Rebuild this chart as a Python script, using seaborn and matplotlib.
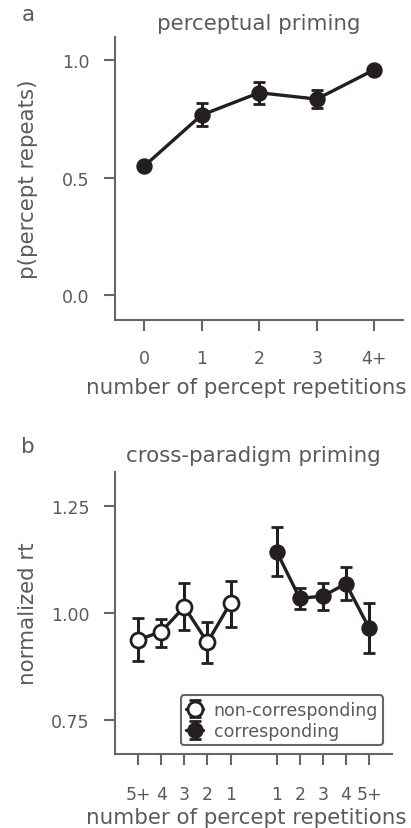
import matplotlib
matplotlib.use('Agg')
import matplotlib.pyplot as plt
import seaborn as sns
import numpy as np

# panel a: perceptual priming
rep_labels_a = ['0', '1', '2', '3', '4+']
p_repeat = [0.548, 0.766, 0.861, 0.834, 0.959]
p_repeat_lo = [0.540, 0.718, 0.813, 0.796, 0.950]
p_repeat_hi = [0.556, 0.816, 0.907, 0.873, 0.968]

# panel b: cross-paradigm priming
noncorr_labels = ['5+', '4', '3', '2', '1']
noncorr_rt = [0.937, 0.956, 1.014, 0.931, 1.023]
noncorr_lo = [0.888, 0.921, 0.959, 0.882, 0.968]
noncorr_hi = [0.988, 0.986, 1.070, 0.979, 1.074]
corr_labels = ['1', '2', '3', '4', '5+']
corr_rt = [1.143, 1.034, 1.039, 1.068, 0.965]
corr_lo = [1.087, 1.009, 1.007, 1.030, 0.907]
corr_hi = [1.200, 1.059, 1.070, 1.106, 1.023]

sns.set_style('ticks')
plt.rcParams['font.family'] = ['DejaVu Sans']
txt = '#5a5a5a'
spine = '#666666'
dark = '#231f20'
fs_lab = 15.4
fs_tick = 12.5

fig = plt.figure(figsize=(4.11, 8.29), dpi=100)
ax1 = fig.add_axes([0.280, 0.6128, 0.701, 0.3414])
ax2 = fig.add_axes([0.280, 0.0893, 0.674, 0.3405])

mk = dict(lw=2.4, marker='o', ms=10.8, capsize=4.2, capthick=2,
          elinewidth=2.2)


def style(ax, xpad):
    sns.despine(ax=ax)
    for s in ['left', 'bottom']:
        ax.spines[s].set_color(spine)
        ax.spines[s].set_linewidth(1.5)
    ax.tick_params(axis='both', colors=spine, labelcolor=txt,
                   labelsize=fs_tick, length=8, width=1.5)
    ax.tick_params(axis='x', pad=xpad)
    ax.tick_params(axis='y', pad=10.5)


def errs(v, lo, hi):
    v = np.array(v)
    return [v - np.array(lo), np.array(hi) - v]


xa = np.arange(len(rep_labels_a))
ax1.errorbar(xa, p_repeat, yerr=errs(p_repeat, p_repeat_lo, p_repeat_hi),
             color=dark, **mk)
ax1.set_xlim(-0.5, 4.5)
ax1.set_ylim(-0.105, 1.098)
ax1.set_yticks([0.0, 0.5, 1.0])
ax1.set_xticks(xa)
ax1.set_xticklabels(rep_labels_a)
ax1.set_ylabel('p(percept repeats)', fontsize=fs_lab, color=txt)
ax1.yaxis.set_label_coords(-0.267, 0.5)
ax1.set_xlabel('number of percept repetitions', fontsize=fs_lab, color=txt,
               labelpad=6.8)
ax1.xaxis.label.set_x((246 - 115) / 288)
ax1.set_title('perceptual priming', fontsize=fs_lab, color=txt, pad=6)
style(ax1, 13)
fig.text(28 / 411, 1 - 15 / 829, 'a', fontsize=fs_lab, color=txt,
         ha='center', va='center')

xn = np.arange(len(noncorr_labels))
xc = np.arange(len(corr_labels)) + len(noncorr_labels) + 1
ax2.errorbar(xn, noncorr_rt, yerr=errs(noncorr_rt, noncorr_lo, noncorr_hi),
             color=dark, mfc='white', mec=dark, mew=2,
             label='non-corresponding', **mk)
ax2.errorbar(xc, corr_rt, yerr=errs(corr_rt, corr_lo, corr_hi),
             color=dark, mfc=dark, mec=dark,
             label='corresponding', **mk)
ax2.set_xlim(-1, 11)
ax2.set_ylim(0.67, 1.33)
ax2.set_yticks([0.75, 1.0, 1.25])
ax2.set_xticks(np.concatenate([xn, xc]))
ax2.set_xticklabels(noncorr_labels + corr_labels)
ax2.set_ylabel('normalized rt', fontsize=fs_lab, color=txt)
ax2.yaxis.set_label_coords(-0.278, 0.5)
ax2.set_xlabel('number of percept repetitions', fontsize=fs_lab, color=txt,
               labelpad=3.5)
ax2.xaxis.label.set_x((246 - 115) / 277)
ax2.set_title('cross-paradigm priming', fontsize=fs_lab, color=txt, pad=8)
style(ax2, 14)
leg = ax2.legend(loc='lower right', fontsize=fs_tick, handlelength=1.0,
                 handletextpad=0.6, borderpad=0.3, labelspacing=0.2,
                 borderaxespad=0.5, frameon=True, fancybox=True)
leg.get_frame().set_edgecolor(spine)
leg.get_frame().set_linewidth(1.5)
leg.get_frame().set_alpha(1)
for t in leg.get_texts():
    t.set_color(txt)
fig.text(28 / 411, 1 - 447 / 829, 'b', fontsize=fs_lab, color=txt,
         ha='center', va='center')

fig.savefig('out.png', dpi=100)
